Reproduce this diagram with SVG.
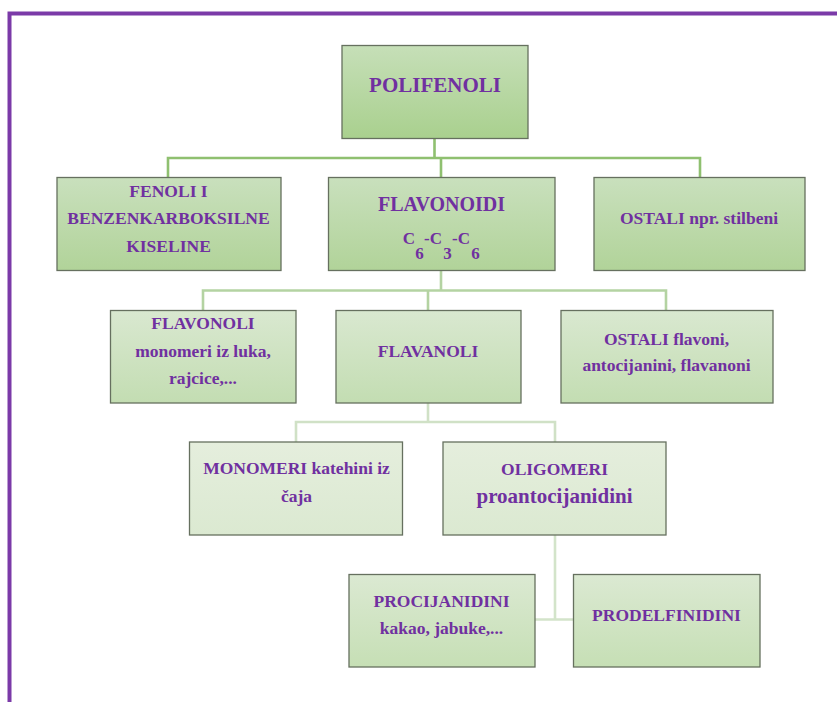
<svg xmlns="http://www.w3.org/2000/svg" width="837" height="702" viewBox="0 0 837 702">
<style>
.box{stroke:#66705f;stroke-width:1.3}
.t{font-family:"Liberation Serif","Times New Roman",serif;font-weight:bold;fill:#7030a0;text-anchor:middle;font-size:17.5px}
.c1{stroke:#8fc070;stroke-width:2.6;fill:none}
.c2{stroke:#b4d3a2;stroke-width:2.6;fill:none}
.c3{stroke:#d0e1c6;stroke-width:2.6;fill:none}
.c4{stroke:#d3e4ca;stroke-width:2.6;fill:none}
</style>
<defs>
<linearGradient id="g1" x1="0" y1="0" x2="0" y2="1"><stop offset="0" stop-color="#c6dfb8"/><stop offset="1" stop-color="#a9d08e"/></linearGradient>
<linearGradient id="g2" x1="0" y1="0" x2="0" y2="1"><stop offset="0" stop-color="#c9e0bd"/><stop offset="1" stop-color="#b1d399"/></linearGradient>
<linearGradient id="g3" x1="0" y1="0" x2="0" y2="1"><stop offset="0" stop-color="#d9e8d0"/><stop offset="1" stop-color="#c3ddb2"/></linearGradient>
<linearGradient id="g4" x1="0" y1="0" x2="0" y2="1"><stop offset="0" stop-color="#e5eedd"/><stop offset="1" stop-color="#dbe9d1"/></linearGradient>
<linearGradient id="g5" x1="0" y1="0" x2="0" y2="1"><stop offset="0" stop-color="#dbe9d2"/><stop offset="1" stop-color="#c6dfb5"/></linearGradient>
</defs>
<rect width="837" height="702" fill="#ffffff"/>
<g id="frame">
<path d="M9.5 702 V13.5 H837" fill="none" stroke="#7b3aa8" stroke-width="4"/>
</g>
<g id="connectors">
<path class="c1" d="M434.5 139 V158 M168 177 V158 H700 V177 M441 158 V177"/>
<path class="c2" d="M441 271 V290.5 M203 310 V290.5 H666 V310 M428 290.5 V310"/>
<path class="c3" d="M428 403 V422 M296 442 V422 H555 V442"/>
<path class="c4" d="M555 535 V619.5 M535 619.5 H573"/>
</g>
<g id="n-polifenoli">
<rect class="box" x="342" y="45.5" width="186" height="93" fill="url(#g1)"/>
<text class="t" x="435" y="92" style="font-size:21px">POLIFENOLI</text>
</g>
<g id="n-fenoli">
<rect class="box" x="57" y="177.5" width="224" height="93" fill="url(#g2)"/>
<text class="t" x="168.5" y="197">FENOLI I</text>
<text class="t" x="168.5" y="224">BENZENKARBOKSILNE</text>
<text class="t" x="168.5" y="252">KISELINE</text>
</g>
<g id="n-flavonoidi">
<rect class="box" x="328.5" y="177.5" width="226.5" height="93" fill="url(#g2)"/>
<text class="t" x="441.5" y="211" style="font-size:20px">FLAVONOIDI</text>
<text class="t" x="409" y="244" style="font-size:17px">C</text>
<text class="t" x="419.5" y="258.5" style="font-size:17px">6</text>
<text class="t" x="433" y="244" style="font-size:17px">-C</text>
<text class="t" x="447.5" y="258.5" style="font-size:17px">3</text>
<text class="t" x="461" y="244" style="font-size:17px">-C</text>
<text class="t" x="475.5" y="258.5" style="font-size:17px">6</text>
</g>
<g id="n-ostali1">
<rect class="box" x="594" y="177.5" width="211" height="93" fill="url(#g2)"/>
<text class="t" x="699" y="224">OSTALI npr. stilbeni</text>
</g>
<g id="n-flavonoli">
<rect class="box" x="110.5" y="310.5" width="185.5" height="92.5" fill="url(#g3)"/>
<text class="t" x="203" y="329">FLAVONOLI</text>
<text class="t" x="203" y="356.5">monomeri iz luka,</text>
<text class="t" x="203" y="384">rajcice,...</text>
</g>
<g id="n-flavanoli">
<rect class="box" x="336" y="310.5" width="185" height="92.5" fill="url(#g3)"/>
<text class="t" x="428" y="356.5">FLAVANOLI</text>
</g>
<g id="n-ostali2">
<rect class="box" x="561" y="310.5" width="212" height="92.5" fill="url(#g3)"/>
<text class="t" x="666.5" y="345">OSTALI flavoni,</text>
<text class="t" x="666.5" y="370.5">antocijanini, flavanoni</text>
</g>
<g id="n-monomeri">
<rect class="box" x="189.5" y="442" width="213" height="93" fill="url(#g4)"/>
<text class="t" x="296.5" y="474">MONOMERI katehini iz</text>
<text class="t" x="296.5" y="501.5">čaja</text>
</g>
<g id="n-oligomeri">
<rect class="box" x="443" y="442" width="223" height="93" fill="url(#g4)"/>
<text class="t" x="554.5" y="475">OLIGOMERI</text>
<text class="t" x="554.5" y="503" style="font-size:21px">proantocijanidini</text>
</g>
<g id="n-procijanidini">
<rect class="box" x="349" y="574.5" width="186" height="92.5" fill="url(#g5)"/>
<text class="t" x="441.5" y="607">PROCIJANIDINI</text>
<text class="t" x="441.5" y="634">kakao, jabuke,...</text>
</g>
<g id="n-prodelfinidini">
<rect class="box" x="573.5" y="574.5" width="186.5" height="92.5" fill="url(#g5)"/>
<text class="t" x="666.5" y="621">PRODELFINIDINI</text>
</g>
</svg>
